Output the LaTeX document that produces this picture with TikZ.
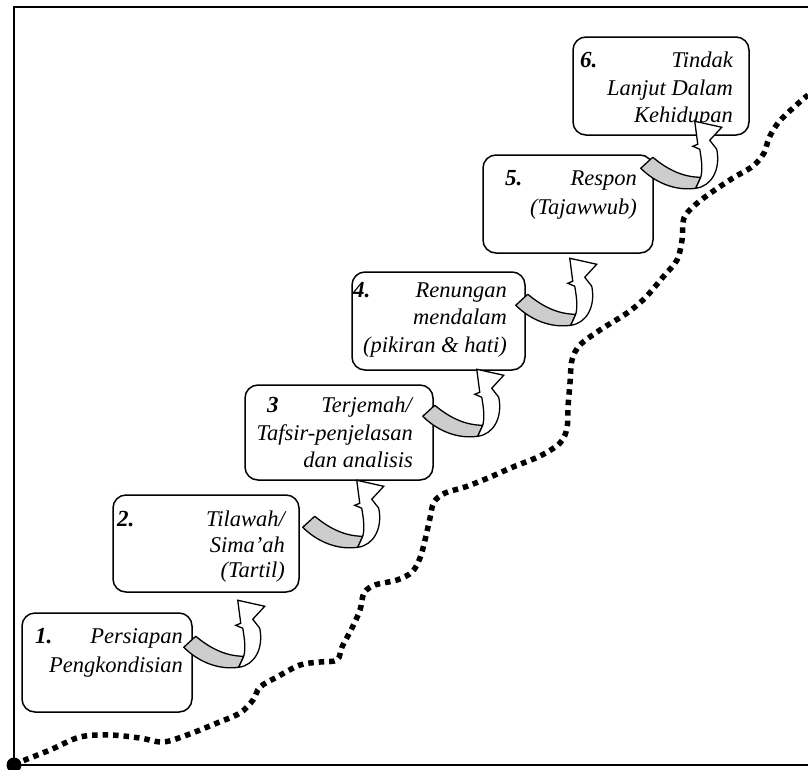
\documentclass[tikz,border=0pt]{standalone}
\usepackage{fontspec}
\setmainfont{Liberation Serif}
\usetikzlibrary{calc}
\definecolor{bandgray}{RGB}{205,205,205}
\begin{document}
\begin{tikzpicture}[x=1pt,y=-1pt,
  stepbox/.style={draw, line width=1.5pt, rounded corners=13pt, fill=white, inner sep=0pt},
  steptxt/.style={inner sep=0pt, anchor=base east, font=\fontsize{22.5}{27}\selectfont\itshape},
  stepnum/.style={inner sep=0pt, anchor=base west, font=\fontsize{23}{27}\selectfont\bfseries\itshape},
  frame/.style={line width=2.6pt},
  trail/.style={line width=5.5pt, dash pattern=on 5.5pt off 5pt},
  band/.style={draw, line width=1.3pt, fill=bandgray, line join=round},
  shaft/.style={draw, line width=1.3pt, fill=white, line join=miter},
  bentarrow/.pic={
    % twisted ribbon: grey back side, then white shaft with head
    \path[band] (0,0) .. controls (12,10) and (28,20) .. (48,20) -- (43,31)
       .. controls (22,34) and (2,25) .. (-12,11) -- cycle;
    \path[shaft] (43,31) .. controls (59,29) and (68,12) .. (64,-8) -- (57,-17)
       -- (69,-30) -- (42,-36) -- (45,-13) -- (40,-11) -- (47,-8)
       .. controls (49,4) and (50,12) .. (48,20) -- cycle;
  }]
\useasboundingbox (0,0) rectangle (808,769);

% axes
\coordinate (origin) at (14,765);
\coordinate (topleft) at (14,7);
\coordinate (topright) at (808,7);
\coordinate (botright) at (808,765);
\draw[frame] (topright) -- (topleft) -- (origin) -- (botright);

% rising dotted trail
\draw[trail] plot[smooth, tension=0.55] coordinates {
  (14,765) (20,762) (50,750) (80,737) (110,735) (140,738) (163,742) (187,735)
  (217,723) (240,713) (253,700) (260,687) (277,677) (300,665) (320,662)
  (337,660) (342,647) (352,628) (360,610) (364,593) (375,585) (397,580)
  (412,572) (420,558) (425,540) (430,518) (434,502) (445,493) (465,487)
  (488,478) (513,467) (540,456) (560,443) (567,428) (568,407) (570,383)
  (572,360) (580,345) (600,330) (627,313) (645,298) (663,277) (677,260)
  (682,240) (684,218) (695,205) (712,192) (733,178) (753,166) (764,153)
  (769,138) (778,123) (793,108) (808,95)};
\fill (origin) circle (7.5pt);

% steps
\node[stepbox, minimum width=170pt, minimum height=99pt] (b1) at (107,662.5) {};
\node[stepbox, minimum width=186pt, minimum height=97pt] (b2) at (206,543.5) {};
\node[stepbox, minimum width=188pt, minimum height=95pt] (b3) at (339,432.5) {};
\node[stepbox, minimum width=173pt, minimum height=98pt] (b4) at (438.5,321) {};
\node[stepbox, minimum width=170pt, minimum height=98pt] (b5) at (568,204) {};
\node[stepbox, minimum width=176pt, minimum height=98pt] (b6) at (661,86) {};

\node[stepnum] (n1) at (35,643) {1.};
\node[steptxt] (t1a) at (183,643) {Persiapan};
\node[steptxt] (t1b) at (183,672) {Pengkondisian};

\node[stepnum] (n2) at (117,526) {2.};
\node[steptxt] (t2a) at (285,526) {Tilawah/};
\node[steptxt] (t2b) at (285,552) {Sima’ah};
\node[steptxt] (t2c) at (285,577) {(Tartil)};

\node[stepnum] (n3) at (267,412) {3};
\node[steptxt] (t3a) at (412,412) {Terjemah/};
\node[steptxt] (t3b) at (413,440) {Tafsir-penjelasan};
\node[steptxt] (t3c) at (413,467) {dan analisis};

\node[stepnum] (n4) at (353,297) {4.};
\node[steptxt] (t4a) at (507,297) {Renungan};
\node[steptxt] (t4b) at (507,324) {mendalam};
\node[steptxt] (t4c) at (507,352) {(pikiran \& hati)};

\node[stepnum] (n5) at (505,185) {5.};
\node[steptxt] (t5a) at (637,185) {Respon};
\node[steptxt] (t5b) at (637,214) {(Tajawwub)};

\node[stepnum] (n6) at (580,67) {6.};
\node[steptxt] (t6a) at (733,67) {Tindak};
\node[steptxt] (t6b) at (733,95) {Lanjut Dalam};
\node[steptxt] (t6c) at (733,122) {Kehidupan};

% curved arrows leading from each step up to the next
\pic at ($(b1.north east)+(3,24)$) {bentarrow};
\pic at ($(b2.north east)+(15,22)$) {bentarrow};
\pic at ($(b3.north east)+(1,21)$) {bentarrow};
\pic at ($(b4.north east)+(2,23)$) {bentarrow};
\pic at ($(b5.north east)+(-1,3)$) {bentarrow};
\end{tikzpicture}
\end{document}
